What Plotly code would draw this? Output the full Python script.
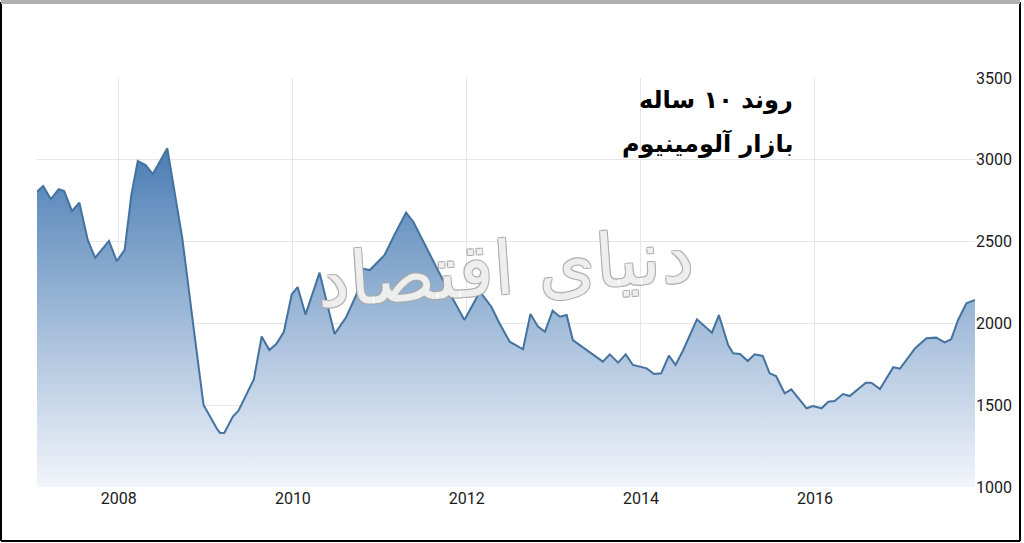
import plotly.graph_objects as go

# ---- data ----
dates = [
    "2007-01-23", "2007-02-18", "2007-03-22", "2007-04-24", "2007-05-17", "2007-06-19",
    "2007-07-20", "2007-08-24", "2007-09-24", "2007-11-21", "2007-12-24",
    "2008-01-26", "2008-02-23", "2008-03-21", "2008-04-23", "2008-05-23", "2008-07-23",
    "2008-08-23", "2008-09-24", "2008-11-08", "2008-12-22",
    "2009-02-15", "2009-02-28", "2009-03-19", "2009-04-24", "2009-05-17", "2009-07-21",
    "2009-08-23", "2009-09-24", "2009-10-23", "2009-11-24", "2009-12-27",
    "2010-01-21", "2010-02-23", "2010-04-23", "2010-06-25", "2010-08-13", "2010-09-24",
    "2010-10-19", "2010-11-20",
    "2011-01-21", "2011-03-03", "2011-04-21", "2011-05-22", "2011-08-26", "2011-10-14",
    "2011-12-22",
    "2012-02-25", "2012-04-13", "2012-05-17", "2012-06-29", "2012-08-24", "2012-09-24",
    "2012-10-26", "2012-11-24", "2012-12-26",
    "2013-01-26", "2013-02-23", "2013-03-21", "2013-05-16", "2013-07-25", "2013-08-23",
    "2013-09-27", "2013-10-29", "2013-11-28",
    "2014-01-25", "2014-02-25", "2014-03-27", "2014-04-28", "2014-05-26", "2014-06-26",
    "2014-08-24", "2014-09-26", "2014-10-26", "2014-11-24",
    "2015-01-02", "2015-01-23", "2015-02-21", "2015-03-25", "2015-04-23", "2015-05-27",
    "2015-06-25", "2015-07-22", "2015-08-27", "2015-09-24", "2015-10-29", "2015-11-27",
    "2015-12-24",
    "2016-01-29", "2016-02-26", "2016-03-24", "2016-04-28", "2016-05-26", "2016-08-02",
    "2016-08-25", "2016-09-30", "2016-11-25", "2016-12-23",
    "2017-02-25", "2017-04-13", "2017-05-24", "2017-06-29", "2017-07-26", "2017-08-24",
    "2017-09-28", "2017-11-03",
]
prices = [
    2805, 2840, 2760, 2820, 2809, 2687,
    2738, 2510, 2401, 2504, 2381,
    2449, 2785, 2993, 2968, 2913, 3070,
    2805, 2520, 2000, 1501,
    1359, 1332, 1330, 1431, 1465, 1657,
    1920, 1837, 1874, 1947, 2177,
    2222, 2054, 2310, 1935, 2039, 2174,
    2335, 2326,
    2418, 2540, 2677, 2620, 2347, 2204,
    2021,
    2194, 2102, 2001, 1888, 1842, 2057,
    1980, 1949, 2078,
    2041, 2051, 1898, 1837, 1766, 1811,
    1760, 1811, 1746,
    1725, 1691, 1695, 1803, 1746, 1833,
    2025, 1984, 1943, 2051,
    1868, 1817, 1813, 1770, 1811, 1801,
    1695, 1678, 1573, 1597, 1532, 1481,
    1495,
    1481, 1521, 1526, 1568, 1556, 1637,
    1637, 1599, 1732, 1723,
    1848, 1909, 1913, 1884, 1903, 2021,
    2123, 2143,
]
y_ticks = [1000, 1500, 2000, 2500, 3000, 3500]
x_tick_years = ["2008", "2010", "2012", "2014", "2016"]
title_lines = ["روند ۱۰ ساله", "بازار آلومینیوم"]
watermark = "دنیای اقتصاد"

# ---- layout geometry ----
W, H = 1024, 543
ML, MR, MT, MB = 37, 49, 78, 56
PW, PH = W - ML - MR, H - MT - MB


def px_x(px):
    return (px - ML) / PW


def px_y(py):
    return (H - MB - py) / PH


fig = go.Figure()
fig.add_trace(go.Scatter(
    x=dates, y=prices, mode="lines",
    line=dict(color="#44729f", width=2),
    fill="tozeroy",
    fillgradient=dict(
        type="vertical", start=1000, stop=3070,
        colorscale=[[0, "#f2f5fb"], [0.45, "#a8c0dc"], [1, "#4a7db4"]],
    ),
    hoverinfo="x+y", showlegend=False,
))

tick_font = dict(family="Liberation Sans Narrow, Roboto, sans-serif", size=16, color="#1a1a1a")

fig.update_xaxes(
    type="date", range=[dates[0], dates[-1]],
    tickvals=[f"{y}-01-01" for y in x_tick_years], ticktext=x_tick_years,
    showgrid=True, gridcolor="#e6e6e6", gridwidth=1,
    showline=False, zeroline=False, ticks="", tickfont=tick_font,
)
fig.update_yaxes(
    range=[y_ticks[0], y_ticks[-1]], tickvals=y_ticks, side="right",
    showgrid=True, gridcolor="#e6e6e6", gridwidth=1,
    showline=False, zeroline=False, ticks="", tickfont=tick_font,
)

title_font = dict(family="DejaVu Sans, sans-serif", size=24,
                  color="#000000", weight="bold")
fig.add_annotation(text=title_lines[0], xref="paper", yref="paper",
                   x=px_x(795), y=px_y(100), xanchor="right", yanchor="middle",
                   showarrow=False, font=title_font)
fig.add_annotation(text=title_lines[1], xref="paper", yref="paper",
                   x=px_x(795), y=px_y(143), xanchor="right", yanchor="middle",
                   showarrow=False, font=title_font)

fig.add_annotation(text=watermark, xref="paper", yref="paper",
                   x=px_x(505), y=px_y(268), xanchor="center", yanchor="middle",
                   showarrow=False, textangle=-4,
                   font=dict(family="DejaVu Sans, sans-serif", size=74,
                             color="rgba(255,255,255,0.8)",
                             shadow="1px 1px 0 #a8a8a8, -1px -1px 0 #a8a8a8, 1px -1px 0 #a8a8a8, -1px 1px 0 #a8a8a8"))

# frame around the picture
fig.add_shape(type="line", xref="paper", yref="paper",
              x0=px_x(1), x1=px_x(1), y0=px_y(541), y1=px_y(2),
              line=dict(color="#000000", width=2))
fig.add_shape(type="line", xref="paper", yref="paper",
              x0=px_x(1020), x1=px_x(1020), y0=px_y(541), y1=px_y(2),
              line=dict(color="#000000", width=2))
fig.add_shape(type="line", xref="paper", yref="paper",
              x0=px_x(1), x1=px_x(1020), y0=px_y(541), y1=px_y(541),
              line=dict(color="#000000", width=2))
fig.add_shape(type="line", xref="paper", yref="paper",
              x0=px_x(1), x1=px_x(1020), y0=px_y(2), y1=px_y(2),
              line=dict(color="#b0b0b0", width=4))

fig.update_layout(
    width=W, height=H, autosize=False,
    margin=dict(l=ML, r=MR, t=MT, b=MB, pad=0),
    paper_bgcolor="#ffffff", plot_bgcolor="#ffffff",
    showlegend=False,
)

fig.write_html("out.html", config={"displayModeBar": False},
               post_script="document.body.style.margin='0';document.body.style.overflow='hidden';")
